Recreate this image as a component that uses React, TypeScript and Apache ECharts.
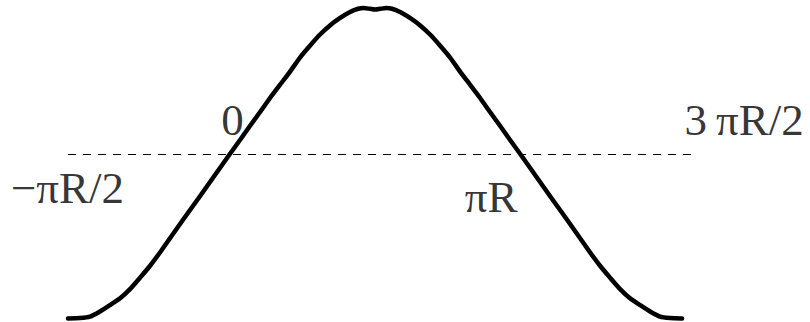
import React, { useEffect, useRef } from "react";
import * as echarts from "echarts";

// x in units of πR (0 = left crossing, 1 = right crossing); y: height above the dashed line
const curveX = [
  -0.555, -0.514, -0.479, -0.445, -0.411, -0.376, -0.342, -0.308, -0.273, -0.239,
  -0.204, -0.153, -0.101, -0.05, 0, 0.036, 0.07, 0.105, 0.139, 0.174,
  0.208, 0.242, 0.277, 0.311, 0.345, 0.38, 0.414, 0.442, 0.462, 0.482, 0.5,
  0.518, 0.538, 0.558, 0.586, 0.62, 0.655, 0.689, 0.723, 0.758, 0.792, 0.826,
  0.861, 0.895, 0.93, 0.964, 1.0, 1.05, 1.101, 1.153, 1.204, 1.239,
  1.273, 1.308, 1.342, 1.376, 1.411, 1.445, 1.479, 1.514, 1.555,
];
const curveY = [
  -1.123, -1.12, -1.11, -1.075, -1.032, -0.985, -0.922, -0.845, -0.762, -0.671,
  -0.572, -0.428, -0.284, -0.14, 0, 0.099, 0.195, 0.291, 0.387, 0.479,
  0.568, 0.664, 0.747, 0.822, 0.884, 0.935, 0.976, 0.998, 1.003, 0.998, 0.993,
  0.998, 1.003, 0.998, 0.976, 0.935, 0.884, 0.822, 0.747, 0.664, 0.568, 0.479,
  0.387, 0.291, 0.195, 0.099, 0, -0.14, -0.284, -0.428, -0.572, -0.671,
  -0.762, -0.845, -0.922, -0.985, -1.032, -1.075, -1.11, -1.12, -1.123,
];
const dashedX = [-0.555, 1.589];
const tickX = [0, -0.5, 1, 1.5];
const tickLabels = ["0", "\u2212\u03c0R/2", "\u03c0R", "3\u2009\u03c0R/2"];
const tickOffsets = [
  [3, -34],
  [-16.5, 34],
  [-29.5, 43],
  [78, -34],
];

export default function App() {
  const ref = useRef<HTMLDivElement>(null);
  useEffect(() => {
    if (!ref.current) return;
    const chart = echarts.init(ref.current, null, { renderer: "svg" });
    const font = "'Times New Roman', 'Liberation Serif', 'DejaVu Serif', serif";
    chart.setOption({
      animation: false,
      backgroundColor: "#ffffff",
      textStyle: { fontFamily: font },
      grid: { left: 68, right: 118, top: 0, bottom: 0, containLabel: false },
      xAxis: {
        type: "value",
        min: -0.555,
        max: 1.589,
        show: false,
      },
      yAxis: {
        type: "value",
        min: -1.1473,
        max: 1.0582,
        show: false,
      },
      series: [
        {
          type: "line",
          data: dashedX.map((x) => [x, 0]),
          symbol: "none",
          lineStyle: { color: "#000", width: 1, type: [8, 7] },
          silent: true,
          z: 1,
        },
        {
          type: "line",
          data: curveX.map((x, i) => [x, curveY[i]]),
          symbol: "none",
          smooth: 0.2,
          clip: false,
          lineStyle: { color: "#000", width: 4.5, cap: "round", join: "round" },
          silent: true,
          z: 2,
        },
        {
          type: "scatter",
          symbolSize: 0,
          silent: true,
          z: 3,
          data: tickX.map((x, i) => ({
            value: [x, 0],
            label: {
              show: true,
              position: "inside",
              formatter: tickLabels[i],
              offset: tickOffsets[i],
              color: "#000000",
              textBorderWidth: 0,
              fontFamily: font,
              fontSize: 45,
              align: "center",
              verticalAlign: "middle",
            },
          })),
        },
      ],
    });
    return () => chart.dispose();
  }, []);
  return (
    <div
      ref={ref}
      style={{ position: "fixed", left: 0, top: 0, width: 810, height: 322, background: "#fff" }}
    />
  );
}
